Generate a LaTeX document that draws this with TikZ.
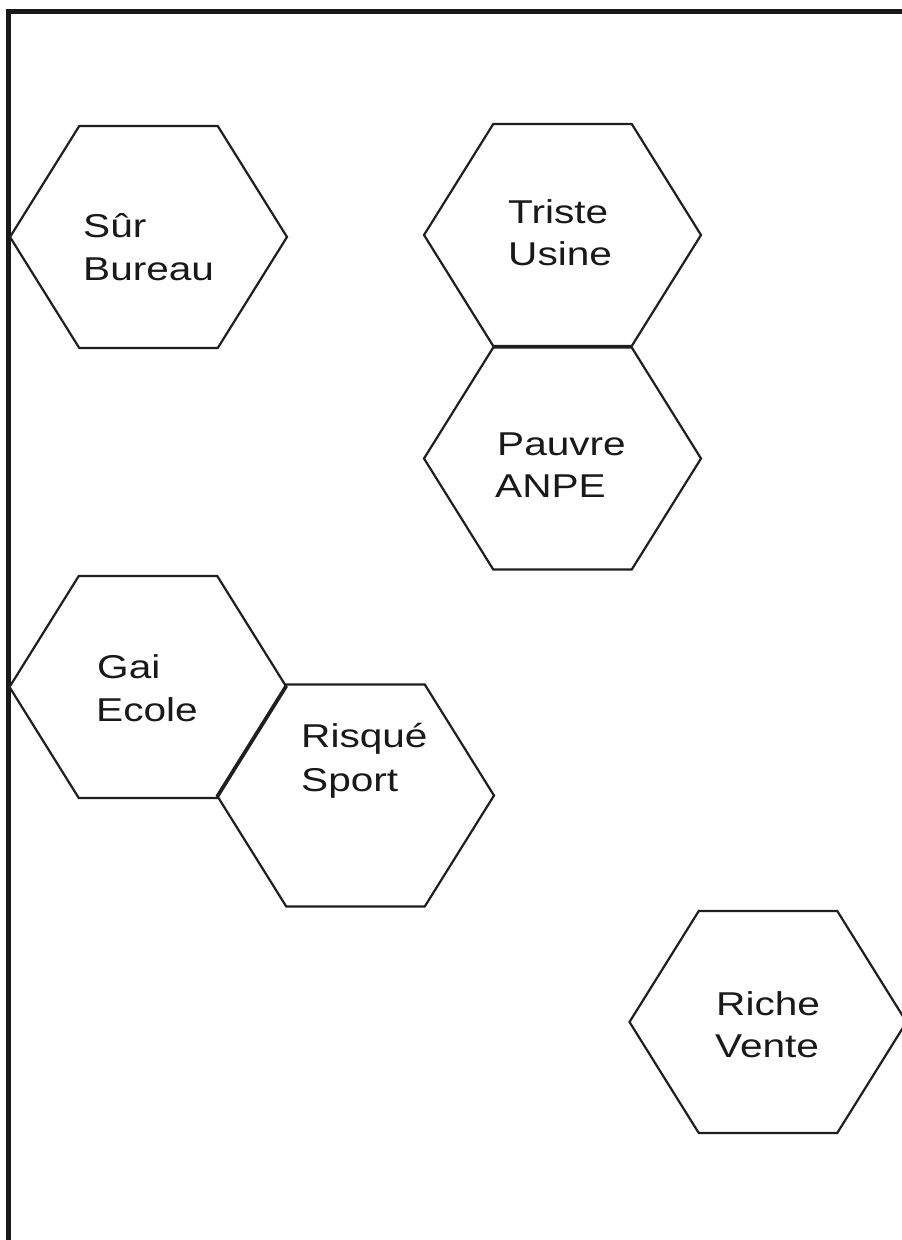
\documentclass[tikz,border=0pt]{standalone}
\usepackage{fontspec}
\newfontfamily\hexfont[FakeStretch=1.23]{Liberation Sans}
\tikzset{
  hexline/.style={draw=black!88, line width=2.2pt, line join=miter},
  frameline/.style={draw=black!90, line width=5pt},
  hexlabel/.style={anchor=base west, inner sep=0pt, text=black!90,
    font=\hexfont\fontsize{33}{40}\selectfont},
  hexa/.pic={\draw[hexline] (-138.5,0) -- (-69.25,-111) -- (69.25,-111) -- (138.5,0) -- (69.25,111) -- (-69.25,111) -- cycle;}
}
\begin{document}
\begin{tikzpicture}[x=1pt,y=-1pt]
\useasboundingbox (0,0) rectangle (902,1240);
\fill[white] (0,0) rectangle (902,1240);
% frame
\coordinate (fTR) at (905,11.5);
\coordinate (fTL) at (8,11.5);
\coordinate (fBL) at (8,1245);
\draw[frameline] (fTR) -- (fTL) -- (fBL);
% hexagons
\pic (hSur) at (148.5,237) {hexa};
\pic (hTriste) at (562.5,235) {hexa};
\pic (hPauvre) at (562.5,458.5) {hexa};
\pic (hGai) at (148,687) {hexa};
\pic (hRisque) at (355.5,795.5) {hexa};
\pic (hRiche) at (768,1022) {hexa};
% labels
\node[hexlabel] (tSur1) at (83,237) {Sûr};
\node[hexlabel] (tSur2) at (83,280) {Bureau};
\node[hexlabel] (tTri1) at (508,223) {Triste};
\node[hexlabel] (tTri2) at (508,265) {Usine};
\node[hexlabel] (tPau1) at (497,455) {Pauvre};
\node[hexlabel] (tPau2) at (495,497) {ANPE};
\node[hexlabel] (tGai1) at (97,678) {Gai};
\node[hexlabel] (tGai2) at (96,721) {Ecole};
\node[hexlabel] (tRis1) at (301,747) {Risqué};
\node[hexlabel] (tRis2) at (301,791) {Sport};
\node[hexlabel] (tRic1) at (716,1015) {Riche};
\node[hexlabel] (tRic2) at (715,1057) {Vente};
\end{tikzpicture}
\end{document}
